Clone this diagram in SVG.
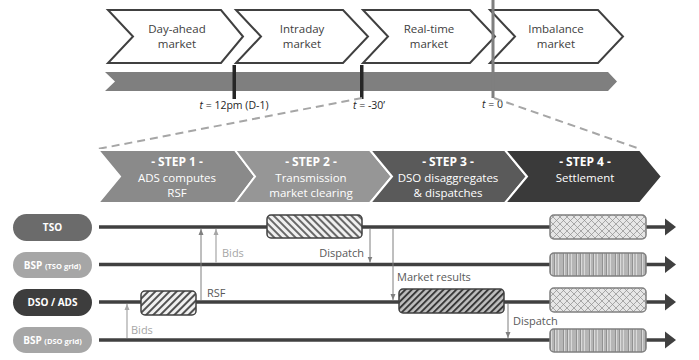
<svg xmlns="http://www.w3.org/2000/svg" width="699" height="360" viewBox="0 0 699 360">
<style>
text{font-family:"Open Sans","Liberation Sans",sans-serif}
.mk{fill:#fff;stroke:#404040;stroke-width:2;stroke-linejoin:miter}
.mt{font-size:11.5px;fill:#404040;text-anchor:middle}
.tl{font-size:10.5px;fill:#262626}
.st{stroke:#fff;stroke-width:2}
.sh{font-size:12px;font-weight:bold;fill:#fff;text-anchor:middle}
.sx{font-size:11.5px;fill:#fff;text-anchor:middle}
.pl{font-size:10px;font-weight:bold;fill:#fff;text-anchor:middle}
.lane{stroke:#404040;stroke-width:3.5}
.ah{fill:#404040}
.box{stroke:#404040;stroke-width:1.5}
.box4{stroke:#7f7f7f;stroke-width:1.5}
.ar{stroke:#7f7f7f;stroke-width:1;fill:none}
.arl{stroke:#a6a6a6;stroke-width:1.2;fill:none}
.lb{font-size:11px;fill:#595959}
.lbl{font-size:11px;fill:#a6a6a6}
.dash{stroke:#a6a6a6;stroke-width:2;stroke-dasharray:8 5;fill:none}
</style>
<defs>
<pattern id="hBack" patternUnits="userSpaceOnUse" width="5" height="5" patternTransform="rotate(-45)"><rect width="5" height="5" fill="#f0f0f0"/><line x1="1" y1="0" x2="1" y2="5" stroke="#595959" stroke-width="1.8"/></pattern>
<pattern id="hFwd" patternUnits="userSpaceOnUse" width="5" height="5" patternTransform="rotate(45)"><rect width="5" height="5" fill="#f0f0f0"/><line x1="1" y1="0" x2="1" y2="5" stroke="#404040" stroke-width="1.8"/></pattern>
<pattern id="hFwd2" patternUnits="userSpaceOnUse" width="4.5" height="4.5" patternTransform="rotate(45)"><rect width="4.5" height="4.5" fill="#bfbfbf"/><line x1="1" y1="0" x2="1" y2="4.5" stroke="#333" stroke-width="1.9"/></pattern>
<pattern id="lat" patternUnits="userSpaceOnUse" width="7" height="7"><rect width="7" height="7" fill="#e6e6e6"/><path d="M0,0 L7,7 M7,0 L0,7" stroke="#8c8c8c" stroke-width="0.7"/></pattern>
<pattern id="vst" patternUnits="userSpaceOnUse" width="13" height="10"><rect width="13" height="10" fill="#d9d9d9"/><path d="M1,0V10M3,0V10M4.5,0V10M7,0V10M8.5,0V10M11,0V10" stroke="#7f7f7f" stroke-width="0.8"/></pattern>
<marker id="ma" viewBox="0 0 6 6" refX="6" refY="3" markerWidth="6" markerHeight="6" markerUnits="userSpaceOnUse" orient="auto"><path d="M0,0.5 L6,3 L0,5.5 Z" fill="#7f7f7f"/></marker>
<marker id="mal" viewBox="0 0 6 6" refX="6" refY="3" markerWidth="6" markerHeight="6" markerUnits="userSpaceOnUse" orient="auto"><path d="M0,0.5 L6,3 L0,5.5 Z" fill="#a6a6a6"/></marker>
</defs>

<g id="markets">
<g id="m1"><path class="mk" d="M108,10 L221,10 L243,36.5 L221,63 L108,63 L133,36.5 Z"/><text class="mt" x="177" y="33">Day-ahead</text><text class="mt" x="177" y="48">market</text></g>
<g id="m2"><path class="mk" d="M236,10 L343,10 L368,36.5 L343,63 L236,63 L261,36.5 Z"/><text class="mt" x="302" y="33">Intraday</text><text class="mt" x="302" y="48">market</text></g>
<g id="m3"><path class="mk" d="M363,10 L470,10 L495,36.5 L470,63 L363,63 L388,36.5 Z"/><text class="mt" x="429" y="33">Real-time</text><text class="mt" x="429" y="48">market</text></g>
<g id="m4"><path class="mk" d="M490,10 L598,10 L623,36.5 L598,63 L490,63 L515,36.5 Z"/><text class="mt" x="556" y="33">Imbalance</text><text class="mt" x="556" y="48">market</text></g>
</g>

<g id="timeline">
<path d="M105,72 L608,72 L617,81.5 L608,91 L105,91 L115,81.5 Z" fill="#7f7f7f"/>
<rect x="232.5" y="65" width="3.5" height="34" fill="#262626"/>
<rect x="360" y="65" width="3.5" height="34" fill="#262626"/>
<rect x="491.5" y="0" width="3" height="98" fill="#7f7f7f"/>
<text class="tl" x="234" y="109" text-anchor="middle"><tspan font-style="italic">t</tspan> = 12pm (D-1)</text>
<text class="tl" x="353" y="109"><tspan font-style="italic">t</tspan> = -30’</text>
<text class="tl" x="482" y="108"><tspan font-style="italic">t</tspan> = 0</text>
<path class="dash" d="M362,98 L98,149"/>
<path class="dash" d="M494,98 L640,149"/>
</g>

<g id="steps">
<g id="s1"><path class="st" fill="#8a8a8a" d="M98,150 L235,150 L255,176.5 L235,203 L98,203 L120,176.5 Z"/><text class="sh" x="177" y="166">- STEP 1 -</text><text class="sx" x="177" y="182">ADS computes</text><text class="sx" x="177" y="197">RSF</text></g>
<g id="s2"><path class="st" fill="#969696" d="M235,150 L370,150 L392,176.5 L370,203 L235,203 L255,176.5 Z"/><text class="sh" x="311" y="166">- STEP 2 -</text><text class="sx" x="311" y="182">Transmission</text><text class="sx" x="311" y="197">market clearing</text></g>
<g id="s3"><path class="st" fill="#5a5a5a" d="M370,150 L505,150 L527,176.5 L505,203 L370,203 L392,176.5 Z"/><text class="sh" x="448" y="166">- STEP 3 -</text><text class="sx" x="448" y="182">DSO disaggregates</text><text class="sx" x="448" y="197">&amp; dispatches</text></g>
<g id="s4"><path class="st" fill="#3a3a3a" d="M505,150 L640,150 L662,176.5 L640,203 L505,203 L527,176.5 Z"/><text class="sh" x="585" y="166">- STEP 4 -</text><text class="sx" x="585" y="182">Settlement</text></g>
</g>

<g id="lanes">
<line class="lane" x1="99" y1="227" x2="666" y2="227"/><path class="ah" d="M665,218.5 L676,227 L665,235.5 Z"/>
<line class="lane" x1="99" y1="264.5" x2="666" y2="264.5"/><path class="ah" d="M665,256 L676,264.5 L665,273 Z"/>
<line class="lane" x1="99" y1="302" x2="666" y2="302"/><path class="ah" d="M665,293.5 L676,302 L665,310.5 Z"/>
<line class="lane" x1="99" y1="340" x2="666" y2="340"/><path class="ah" d="M665,331.5 L676,340 L665,348.5 Z"/>
</g>

<g id="tso"><rect x="13" y="214" width="79" height="27" rx="13.5" fill="#6b6b6b"/><text class="pl" x="52.5" y="231">TSO</text></g>
<g id="bsp-tso"><rect x="13" y="252" width="79" height="26" rx="13" fill="#a6a6a6"/><text class="pl" x="52.5" y="268.5">BSP <tspan font-size="7.5px">(TSO grid)</tspan></text></g>
<g id="dso"><rect x="13" y="289" width="79" height="27" rx="13.5" fill="#3d3d3d"/><text class="pl" x="52.5" y="306">DSO / ADS</text></g>
<g id="bsp-dso"><rect x="13" y="327" width="79" height="26" rx="13" fill="#a6a6a6"/><text class="pl" x="52.5" y="343.5">BSP <tspan font-size="7.5px">(DSO grid)</tspan></text></g>

<g id="boxes">
<rect class="box" x="141" y="291" width="55" height="24" rx="4" fill="url(#hFwd)"/>
<rect class="box" x="267" y="215" width="95" height="23" rx="4" fill="url(#hBack)"/>
<rect class="box" x="399" y="289" width="105" height="24" rx="4" fill="url(#hFwd2)"/>
<rect class="box4" x="550" y="215" width="96" height="24" rx="4" fill="url(#lat)"/>
<rect class="box4" x="550" y="253" width="96" height="23" rx="4" fill="url(#vst)"/>
<rect class="box4" x="550" y="288" width="96" height="24" rx="4" fill="url(#lat)"/>
<rect class="box4" x="550" y="329" width="96" height="23" rx="4" fill="url(#vst)"/>
</g>

<g id="connectors">
<path class="ar" d="M201,300 V229" marker-end="url(#ma)"/>
<path class="arl" d="M216,262.5 V229" marker-end="url(#mal)"/>
<path class="arl" d="M127,338 V304" marker-end="url(#mal)"/>
<path class="ar" d="M370,229 V262.5" marker-end="url(#ma)"/>
<path class="ar" d="M393,229 V300" marker-end="url(#ma)"/>
<path class="ar" d="M508,304 V338" marker-end="url(#ma)"/>
<text class="lb" x="207" y="297">RSF</text>
<text class="lbl" x="222" y="257">Bids</text>
<text class="lbl" x="131" y="334">Bids</text>
<text class="lb" x="364" y="257" text-anchor="end" fill="#404040">Dispatch</text>
<text class="lb" x="397" y="281">Market results</text>
<text class="lb" x="513" y="325">Dispatch</text>
</g>
</svg>
